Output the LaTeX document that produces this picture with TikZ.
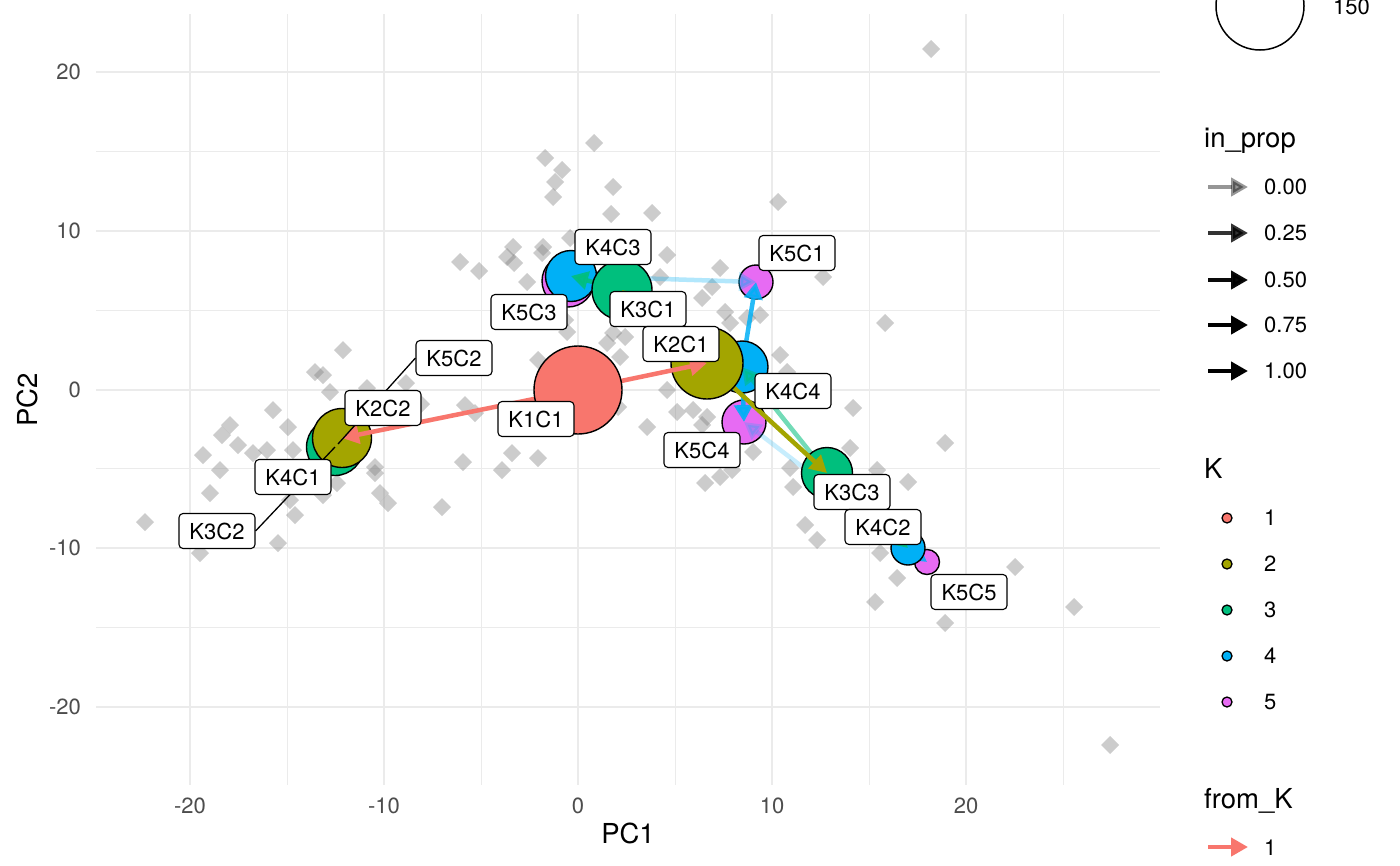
\documentclass[tikz,border=0pt]{standalone}
\usepackage{fontspec}
\setmainfont{TeX Gyre Heros}
\usetikzlibrary{arrows.meta,positioning}

\definecolor{kone}{HTML}{F8766D}
\definecolor{ktwo}{HTML}{A3A500}
\definecolor{kthree}{HTML}{00BF7D}
\definecolor{kfour}{HTML}{00B0F6}
\definecolor{kfive}{HTML}{E76BF3}
\definecolor{gridgray}{HTML}{EBEBEB}
\definecolor{tickgray}{HTML}{4D4D4D}

\pgfdeclarelayer{back}
\pgfdeclarelayer{kfivel}
\pgfdeclarelayer{afour}
\pgfdeclarelayer{kfourl}
\pgfdeclarelayer{athree}
\pgfdeclarelayer{kthreel}
\pgfdeclarelayer{atwo}
\pgfdeclarelayer{ktwol}
\pgfdeclarelayer{aone}
\pgfdeclarelayer{konel}
\pgfsetlayers{back,kfivel,afour,kfourl,athree,kthreel,atwo,ktwol,aone,konel,main}

\tikzset{
  clus/.style={circle,draw=black,line width=1.4pt,inner sep=0pt},
  lbl/.style={draw=black,fill=white,rounded corners=4pt,line width=1.1pt,
    minimum width=76pt,minimum height=35pt,inner sep=0pt,
    font=\fontsize{22}{26}\selectfont},
  flow/.style={line width=4.5pt,-{Triangle[length=17pt,width=18pt]}},
  obs/.style={fill=gray,fill opacity=0.4},
  gridmajor/.style={draw=gridgray,line width=2pt},
  gridminor/.style={draw=gridgray,line width=1pt},
  ticklab/.style={text=tickgray,font=\fontsize{22}{26}\selectfont,inner sep=0pt},
  legtext/.style={font=\fontsize{22}{26}\selectfont,inner sep=0pt,anchor=west},
  ttl/.style={font=\fontsize{27.5}{32}\selectfont,inner sep=0pt}
}

\begin{document}
\begin{tikzpicture}[x=1pt,y=-1pt]
\useasboundingbox (0,0) rectangle (1400,865);
\begin{pgfonlayer}{back}
\fill[white] (0,0) rectangle (1400,865);

% grid
\foreach \gx in {-15,-5,5,15,25}
  \draw[gridminor] ({578+19.4*\gx},14) -- ({578+19.4*\gx},785);
\foreach \gy in {15,5,-5,-15}
  \draw[gridminor] (96,{389.5-15.875*\gy}) -- (1160,{389.5-15.875*\gy});
\foreach \gx in {-20,-10,0,10,20}
  \draw[gridmajor] ({578+19.4*\gx},14) -- ({578+19.4*\gx},785);
\foreach \gy in {-20,-10,0,10,20}
  \draw[gridmajor] (96,{389.5-15.875*\gy}) -- (1160,{389.5-15.875*\gy});

% observations
\foreach \px/\py in {931/49,594/143,545/158,562/170,555/182,553/197,613/187,611/214,
  652/213,460/262,479/271,513/247,507/257,514/263,543/247,542/253,570/238,527/282,
  667/255,720/268,712/287,702/298,725/312,730/323,660/277,613/333,625/337,607/343,
  620/357,565/320,567/332,538/360,778/202,823/277,760/315,747/318,885/323,780/355,
  787/372,618/407,667/390,677/412,693/410,707/417,702/425,647/427,705/483,720/477,
  732/470,753/452,853/408,945/443,850/448,790/468,793/487,877/470,908/482,805/525,
  817/540,880/553,897/578,875/602,945/623,1015/567,1074/607,1110/745,465/405,
  475/413,463/462,512/453,502/470,538/458,442/507,406/383,421/404,343/350,315/372,
  323/375,330/392,367/388,273/410,288/427,230/425,222/435,238/445,253/453,267/450,
  293/450,203/455,220/470,210/493,375/467,375/473,337/483,323/495,290/500,295/515,
  380/493,388/503,278/543,200/553,145/522}
  \fill[obs] (\px,\py) ++(0,-9) -- ++(9,9) -- ++(-9,9) -- ++(-9,-9) -- cycle;
\end{pgfonlayer}

% tick labels
\foreach \gx in {-20,-10,0,10,20}
  \node[ticklab] at ({578+19.4*\gx},806) {\gx};
\foreach \gy in {-20,-10,0,10,20}
  \node[ticklab,anchor=east] at (81,{389.5-15.875*\gy}) {\gy};
\node[ttl] (xtitle) at (628,833) {PC1};
\node[ttl,rotate=90] (ytitle) at (27,400) {PC2};

% clusters, K = 5 at the bottom
\begin{pgfonlayer}{kfivel}
\node[clus,fill=kfive,minimum size=40pt] (K5C2) at (338,444) {};
\node[clus,fill=kfive,minimum size=52pt] (K5C3) at (568,281) {};
\node[clus,fill=kfive,minimum size=34pt] (K5C1) at (756,282) {};
\node[clus,fill=kfive,minimum size=44pt] (K5C4) at (744,422) {};
\node[clus,fill=kfive,minimum size=25pt] (K5C5) at (927,562) {};
\end{pgfonlayer}
\begin{pgfonlayer}{kfourl}
\node[clus,fill=kfour,minimum size=48pt] (K4C1) at (336,446) {};
\node[clus,fill=kfour,minimum size=51pt] (K4C3) at (571,276) {};
\node[clus,fill=kfour,minimum size=52pt] (K4C4) at (742,367) {};
\node[clus,fill=kfour,minimum size=34pt] (K4C2) at (908,548) {};
\end{pgfonlayer}
\begin{pgfonlayer}{kthreel}
\node[clus,fill=kthree,minimum size=57pt] (K3C2) at (335,447) {};
\node[clus,fill=kthree,minimum size=60pt] (K3C1) at (622,290) {};
\node[clus,fill=kthree,minimum size=51pt] (K3C3) at (827,473) {};
\end{pgfonlayer}
\begin{pgfonlayer}{ktwol}
\node[clus,fill=ktwo,minimum size=59pt] (K2C2) at (342,438) {};
\node[clus,fill=ktwo,minimum size=72pt] (K2C1) at (707,363) {};
\end{pgfonlayer}
\begin{pgfonlayer}{konel}
\node[clus,fill=kone,minimum size=88pt] (K1C1) at (578,390) {};
\end{pgfonlayer}

% flows between clusters
\begin{pgfonlayer}{afour}
\draw[flow,kfour,opacity=0.85] (K4C4.center) -- (K5C1.center);
\draw[flow,kfour,opacity=0.9] (K4C4.center) -- (K5C4.center);
\draw[flow,kfour,opacity=0.3] (K4C3.center) -- (K5C1.center);
\draw[flow,kfour,opacity=0.6] (K4C3.center) -- (K5C3.center);
\draw[flow,kfour,opacity=0.22] (K4C2.center) -- (K5C4.center);
\draw[flow,kfour,opacity=0.9] (K4C2.center) -- (K5C5.center);
\draw[flow,kfour] (K4C1.center) -- (K5C2.center);
\end{pgfonlayer}
\begin{pgfonlayer}{athree}
\draw[flow,kthree,opacity=0.9] (K3C1.center) -- (K4C3.center);
\draw[flow,kthree,opacity=0.55] (K3C3.center) -- (K4C4.center);
\draw[flow,kthree,opacity=0.9] (K3C3.center) -- (K4C2.center);
\draw[flow,kthree] (K3C2.center) -- (K4C1.center);
\end{pgfonlayer}
\begin{pgfonlayer}{atwo}
\draw[flow,ktwo] (K2C1.center) -- (K3C1.center);
\draw[flow,ktwo] (K2C1.center) -- (K3C3.center);
\draw[flow,ktwo] (K2C2.center) -- (K3C2.center);
\end{pgfonlayer}
\begin{pgfonlayer}{aone}
\draw[flow,kone] (K1C1.center) -- (K2C1.center);
\draw[flow,kone] (K1C1.center) -- (K2C2.center);
\end{pgfonlayer}

% labels
\node[lbl] (lK3C2) at (217,531) {K3C2};
\node[lbl] (lK5C2) at (454,358) {K5C2};
\draw[line width=1.3pt] (lK3C2.east) -- (K3C2.center);
\draw[line width=1.3pt] (lK5C2.west) -- (K5C2.center);
\node[lbl] (lK4C3) at (613,247) {K4C3};
\node[lbl] (lK5C3) at (529,312) {K5C3};
\node[lbl] (lK3C1) at (648,309) {K3C1};
\node[lbl] (lK2C1) at (681,344) {K2C1};
\node[lbl] (lK1C1) at (536,419) {K1C1};
\node[lbl] (lK5C1) at (797,253) {K5C1};
\node[lbl] (lK4C4) at (793,391) {K4C4};
\node[lbl] (lK5C4) at (702,450) {K5C4};
\node[lbl] (lK3C3) at (852,492) {K3C3};
\node[lbl] (lK4C2) at (883,527) {K4C2};
\node[lbl] (lK5C5) at (969,592) {K5C5};
\node[lbl] (lK2C2) at (383,408) {K2C2};
\node[lbl] (lK4C1) at (293,477) {K4C1};

% legend: size
\draw[line width=1.5pt] (1260,6) circle[radius=44];
\node[legtext] (sz) at (1333,7) {150};

% legend: in_prop
\node[ttl,anchor=base west] (tprop) at (1204,147) {in\_prop};
\foreach \ly/\lv/\la in {187/0.00/0.41,233/0.25/0.8,280/0.50/0.96,325/0.75/1,371/1.00/1}{
  \draw[flow,black,opacity=\la] (1208,\ly) -- (1248,\ly);
  \node[legtext] at (1264,\ly) {\lv};
}

% legend: K
\node[ttl,anchor=base west] (tK) at (1204,478) {K};
\foreach \ly/\lc/\lv in {518/kone/1,564/ktwo/2,610/kthree/3,656/kfour/4,702/kfive/5}{
  \fill[\lc,draw=black,line width=1.3pt] (1227,\ly) circle[radius=5];
  \node[legtext] at (1264,\ly) {\lv};
}

% legend: from_K
\node[ttl,anchor=base west] (tfrom) at (1204,808) {from\_K};
\draw[flow,kone] (1208,847) -- (1248,847);
\node[legtext] at (1264,848) {1};
\end{tikzpicture}
\end{document}
